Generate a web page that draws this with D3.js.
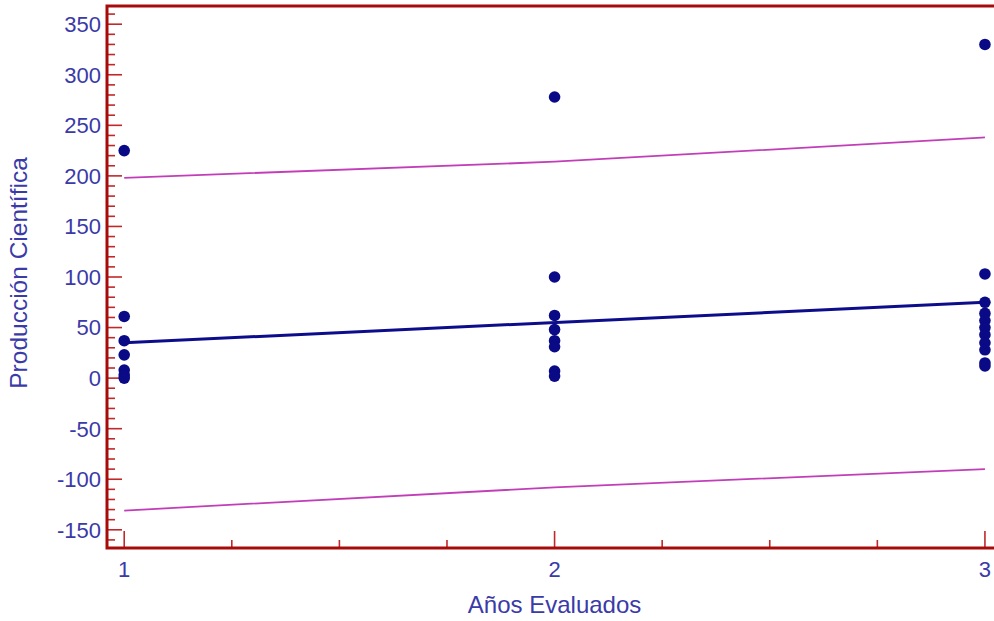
<!DOCTYPE html>
<html>
<head>
<meta charset="utf-8">
<script src="https://cdnjs.cloudflare.com/ajax/libs/d3/7.8.5/d3.min.js"></script>
<style>
  body { margin: 0; background: #fff; }
  svg { display: block; }
</style>
</head>
<body>
<script>
// years (x) and production values
var years1 = [1, 1, 1, 1, 1, 1, 1];
var prod1 = [225, 61, 37, 23, 8, 3, 0];
var years2 = [2, 2, 2, 2, 2, 2, 2, 2];
var prod2 = [278, 100, 62, 48, 37, 31, 7, 2];
var years3 = [3, 3, 3, 3, 3, 3, 3, 3, 3, 3, 3];
var prod3 = [330, 103, 75, 64, 57, 50, 43, 35, 28, 15, 12];

// fitted line and prediction limits
var fitX = [1, 3];
var fitY = [35, 75];
var limX = [1, 2, 3];
var upperY = [198, 214, 238];
var lowerY = [-131, -108, -90];

var yTicks = [-150, -100, -50, 0, 50, 100, 150, 200, 250, 300, 350];
var xTicks = [1, 2, 3];

var width = 994, height = 621;
var svg = d3.select("body").append("svg").attr("width", width).attr("height", height);

var x = d3.scaleLinear().domain([0.96, 3.035]).range([107, 1000]);
var y = d3.scaleLinear().domain([-168, 368]).range([548, 6]);

var red = "#a80a0a", tickRed = "#c0282a", blue = "#3a3aa8";
var font = "Liberation Sans, Arial, sans-serif";

// minor ticks y (every 10) and x (every 0.25)
var yMinor = d3.range(-160, 370, 10).filter(function(d){ return d % 50 !== 0; });
var xMinor = d3.range(1.25, 3, 0.25).filter(function(d){ return d % 1 !== 0; });

var ticks = svg.append("g").attr("stroke", tickRed).attr("stroke-width", 1.6);
ticks.selectAll("line.ymaj").data(yTicks).enter().append("line")
  .attr("x1", 107).attr("x2", 122)
  .attr("y1", function(d){ return y(d); }).attr("y2", function(d){ return y(d); });
ticks.selectAll("line.ymin").data(yMinor).enter().append("line")
  .attr("x1", 107).attr("x2", 115)
  .attr("y1", function(d){ return y(d); }).attr("y2", function(d){ return y(d); });
ticks.selectAll("line.xmaj").data(xTicks).enter().append("line")
  .attr("y1", 548).attr("y2", 531)
  .attr("x1", function(d){ return x(d); }).attr("x2", function(d){ return x(d); });
ticks.selectAll("line.xmin").data(xMinor).enter().append("line")
  .attr("y1", 548).attr("y2", 540)
  .attr("x1", function(d){ return x(d); }).attr("x2", function(d){ return x(d); });

// frame
svg.append("rect")
  .attr("x", x.range()[0]).attr("y", y.range()[1])
  .attr("width", x.range()[1] - x.range()[0])
  .attr("height", y.range()[0] - y.range()[1])
  .attr("fill", "none").attr("stroke", red).attr("stroke-width", 3);

// tick labels
svg.append("g").selectAll("text").data(yTicks).enter().append("text")
  .attr("x", 101).attr("y", function(d){ return y(d); })
  .attr("dy", "0.36em").attr("text-anchor", "end")
  .attr("font-family", font).attr("font-size", 22)
  .attr("fill", blue)
  .text(function(d){ return d < 0 ? "-" + Math.abs(d) : d; });

svg.append("g").selectAll("text").data(xTicks).enter().append("text")
  .attr("x", function(d){ return x(d); }).attr("y", 577)
  .attr("text-anchor", "middle")
  .attr("font-family", font).attr("font-size", 22)
  .attr("fill", blue)
  .text(function(d){ return d; });

// axis titles
svg.append("text")
  .attr("x", x(2)).attr("y", 613).attr("text-anchor", "middle")
  .attr("font-family", font).attr("font-size", 24)
  .attr("fill", blue).text("Años Evaluados");

svg.append("text")
  .attr("transform", "translate(27,273) rotate(-90)").attr("text-anchor", "middle")
  .attr("font-family", font).attr("font-size", 24.5)
  .attr("fill", blue).text("Producción Científica");

// prediction limits
var limLine = d3.line()
  .x(function(d){ return x(d[0]); })
  .y(function(d){ return y(d[1]); })
  .curve(d3.curveNatural);
[upperY, lowerY].forEach(function(vals){
  svg.append("path")
    .attr("d", limLine(d3.zip(limX, vals)))
    .attr("fill", "none").attr("stroke", "#c23eb8").attr("stroke-width", 1.8);
});

// fitted line
svg.append("path")
  .attr("d", d3.line().x(function(d){ return x(d[0]); }).y(function(d){ return y(d[1]); })(d3.zip(fitX, fitY)))
  .attr("fill", "none").attr("stroke", "#0d0d8c").attr("stroke-width", 3);

// points
var pts = d3.zip(years1.concat(years2, years3), prod1.concat(prod2, prod3));
svg.append("g").selectAll("circle").data(pts).enter().append("circle")
  .attr("cx", function(d){ return x(d[0]); })
  .attr("cy", function(d){ return y(d[1]); })
  .attr("r", 5.8)
  .attr("fill", "#0a0a86");
</script>
</body>
</html>
